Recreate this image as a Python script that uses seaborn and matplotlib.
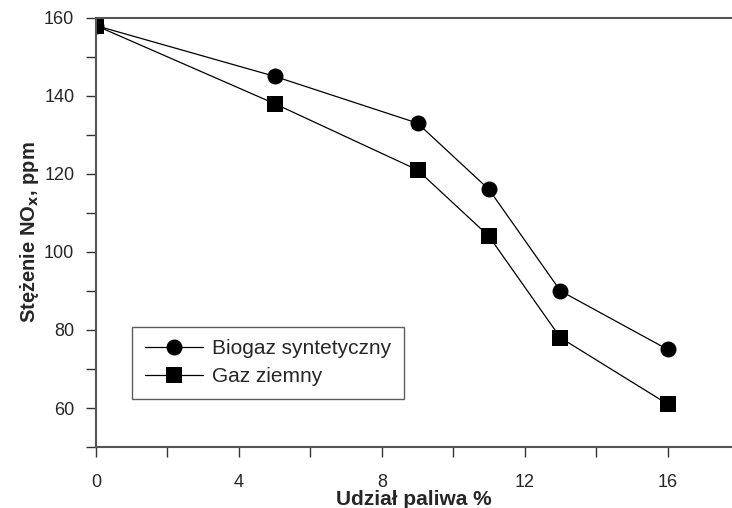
import matplotlib
matplotlib.use('Agg')
import matplotlib.pyplot as plt
import seaborn as sns
import pandas as pd

# Data
udzial = [0, 5, 9, 11, 13, 16]
biogaz = [158, 145, 133, 116, 90, 75]
gaz_ziemny = [158, 138, 121, 104, 78, 61]

x_ticks = [0, 2, 4, 6, 8, 10, 12, 14, 16]
x_labels = ['0', '', '4', '', '8', '', '12', '', '16']
y_ticks = [50, 60, 70, 80, 90, 100, 110, 120, 130, 140, 150, 160]
y_labels = ['', '60', '', '80', '', '100', '', '120', '', '140', '', '160']

df = pd.DataFrame({
    'x': udzial * 2,
    'y': biogaz + gaz_ziemny,
    'seria': ['Biogaz syntetyczny'] * len(udzial) + ['Gaz ziemny'] * len(udzial),
})

sns.set_style('white')
plt.rcParams['font.family'] = ['Liberation Sans', 'DejaVu Sans']
plt.rcParams['mathtext.default'] = 'bf'

fig = plt.figure(figsize=(7.32, 5.08), dpi=100)
ax = fig.add_axes([0.131, 0.12, 0.869, 0.845])

sns.lineplot(data=df, x='x', y='y', style='seria', markers={'Biogaz syntetyczny': 'o', 'Gaz ziemny': 's'},
             dashes=False, color='black', linewidth=0.9, markersize=11.5, markeredgewidth=0, ax=ax)

ax.set_xlim(0, 17.8)
ax.set_ylim(50, 160)
ax.set_xticks(x_ticks)
ax.set_xticklabels(x_labels, fontsize=13)
ax.set_yticks(y_ticks)
ax.set_yticklabels(y_labels, fontsize=13)
ax.tick_params(axis='both', direction='out', length=7.5, width=1, color='#333333', left=True, bottom=True)
ax.tick_params(axis='x', pad=12)
ax.tick_params(axis='y', pad=8)

for side in ['left', 'bottom', 'top']:
    ax.spines[side].set_color('#555555')
    ax.spines[side].set_linewidth(1.5)
ax.spines['right'].set_visible(False)

ax.set_xlabel('Udział paliwa %', fontsize=15, fontweight='bold', labelpad=-0.5)
ax.set_ylabel('Stężenie NO$_x$, ppm', fontsize=14.5, fontweight='bold', labelpad=2)

leg = ax.legend(loc='lower left', bbox_to_anchor=(0.057, 0.112), borderaxespad=0, fontsize=15,
                frameon=True, fancybox=False, edgecolor='#333333', handlelength=2.8, borderpad=0.6,
                labelspacing=0.45, handletextpad=0.45)
leg.get_frame().set_linewidth(1)

plt.savefig('out.png', dpi=100)
